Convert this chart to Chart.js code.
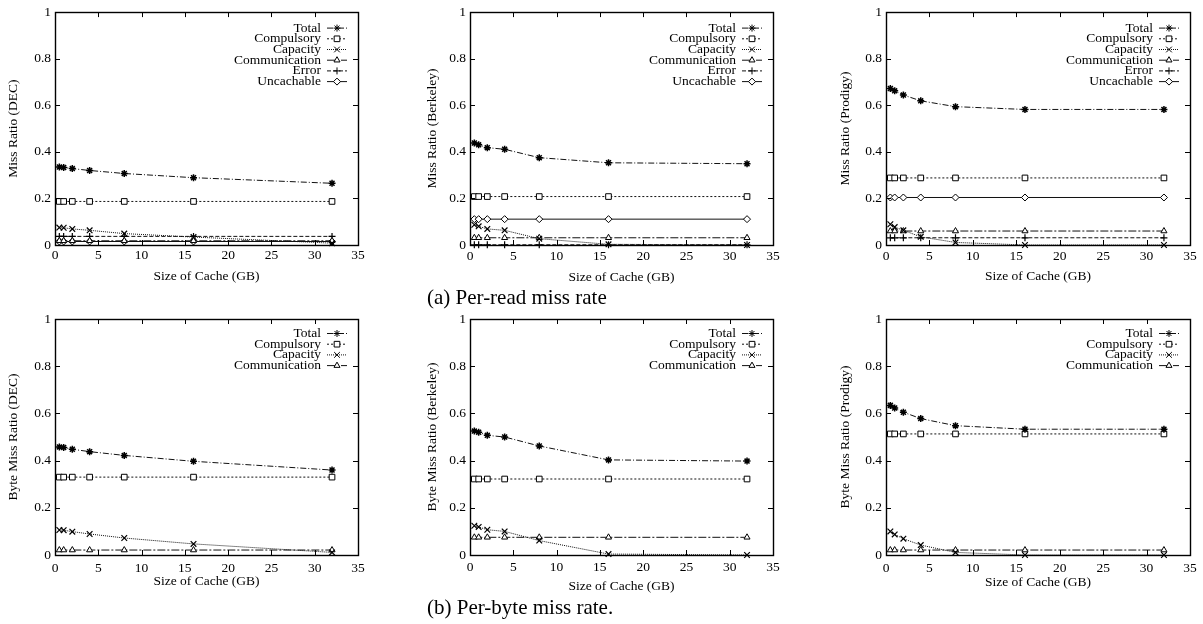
<!DOCTYPE html>
<html>
<head>
<meta charset="utf-8">
<script src="https://cdn.jsdelivr.net/npm/chart.js@4.4.1/dist/chart.umd.min.js"></script>
<style>
  body { margin: 0; background: #fff; width: 1203px; height: 624px; position: relative; overflow: hidden; font-family: 'Liberation Serif', serif; }
  canvas { position: absolute; }
  .caption { position: absolute; font-family: 'Liberation Serif', 'Times New Roman', serif; font-size: 21px; color: #000; white-space: nowrap; line-height: 1; z-index: 2; }
</style>
</head>
<body>
<div class="caption" id="capA" style="left:427px; top:287px;">(a) Per-read miss rate</div>
<div class="caption" id="capB" style="left:427px; top:597px;">(b) Per-byte miss rate.</div>

<script>
// cache sizes (GB) on the x axis
const cacheSizes = [0.5, 1, 2, 4, 8, 16, 32];
const xTicks = [0, 5, 10, 15, 20, 25, 30, 35];
const yTicks = [0, 0.2, 0.4, 0.6, 0.8, 1];

// (a) per-read miss ratio
const decTotal         = [0.335, 0.333, 0.328, 0.320, 0.307, 0.289, 0.265];
const decCompulsory    = [0.187, 0.187, 0.187, 0.187, 0.187, 0.187, 0.187];
const decCapacity      = [0.075, 0.074, 0.069, 0.063, 0.049, 0.034, 0.008];
const decCommunication = [0.018, 0.018, 0.018, 0.018, 0.018, 0.018, 0.018];
const decError         = [0.037, 0.037, 0.037, 0.037, 0.037, 0.037, 0.037];
const decUncachable    = [0.015, 0.015, 0.015, 0.015, 0.015, 0.015, 0.015];

const berkTotal         = [0.438, 0.430, 0.418, 0.411, 0.375, 0.353, 0.349];
const berkCompulsory    = [0.208, 0.208, 0.208, 0.208, 0.208, 0.208, 0.208];
const berkCapacity      = [0.087, 0.080, 0.069, 0.063, 0.027, 0.003, 0.000];
const berkCommunication = [0.031, 0.031, 0.031, 0.031, 0.031, 0.031, 0.031];
const berkError         = [0.001, 0.001, 0.001, 0.001, 0.001, 0.001, 0.001];
const berkUncachable    = [0.111, 0.111, 0.111, 0.111, 0.111, 0.111, 0.111];

const prodTotal         = [0.672, 0.662, 0.644, 0.619, 0.594, 0.582, 0.582];
const prodCompulsory    = [0.288, 0.288, 0.288, 0.288, 0.288, 0.288, 0.288];
const prodCapacity      = [0.089, 0.077, 0.063, 0.035, 0.011, 0.000, 0.000];
const prodCommunication = [0.060, 0.060, 0.060, 0.060, 0.060, 0.060, 0.060];
const prodError         = [0.031, 0.031, 0.031, 0.031, 0.031, 0.031, 0.031];
const prodUncachable    = [0.204, 0.204, 0.204, 0.204, 0.204, 0.204, 0.204];

// (b) per-byte miss ratio
const decByteTotal         = [0.458, 0.456, 0.448, 0.438, 0.422, 0.397, 0.360];
const decByteCompulsory    = [0.330, 0.330, 0.330, 0.330, 0.330, 0.330, 0.330];
const decByteCapacity      = [0.106, 0.105, 0.099, 0.089, 0.072, 0.047, 0.011];
const decByteCommunication = [0.021, 0.021, 0.021, 0.021, 0.021, 0.021, 0.021];

const berkByteTotal         = [0.525, 0.520, 0.507, 0.500, 0.462, 0.403, 0.398];
const berkByteCompulsory    = [0.322, 0.322, 0.322, 0.322, 0.322, 0.322, 0.322];
const berkByteCapacity      = [0.124, 0.119, 0.107, 0.100, 0.061, 0.004, 0.000];
const berkByteCommunication = [0.075, 0.075, 0.075, 0.075, 0.075, 0.075, 0.075];

const prodByteTotal         = [0.634, 0.623, 0.605, 0.578, 0.548, 0.533, 0.533];
const prodByteCompulsory    = [0.513, 0.513, 0.513, 0.513, 0.513, 0.513, 0.513];
const prodByteCapacity      = [0.100, 0.087, 0.069, 0.042, 0.011, 0.000, 0.000];
const prodByteCommunication = [0.021, 0.021, 0.021, 0.021, 0.021, 0.021, 0.021];

const FONT = "'Liberation Serif', 'Times New Roman', serif";
const FONT_SIZE = 13.5;

// line style per series name (gnuplot-ish)
const seriesStyle = {
    'Total':         { dash: [6, 2, 1, 2], point: 'star',     radius: 3.5, pw: 1.5 },
    'Compulsory':    { dash: [2, 2],       point: 'rect',     radius: 4,   pw: 1 },
    'Capacity':      { dash: [1, 1],       point: 'crossRot', radius: 4,   pw: 1.2 },
    'Communication': { dash: [8, 2, 2, 2], point: 'triangle', radius: 3.5, pw: 1 },
    'Error':         { dash: [4, 2],       point: 'cross',    radius: 3.5, pw: 1.2 },
    'Uncachable':    { dash: [],           point: 'rectRot',  radius: 3.5, pw: 1 }
};

function makeDataset(name, values) {
    const s = seriesStyle[name];
    return {
        label: name,
        data: cacheSizes.map((x, i) => ({ x: x, y: values[i] })),
        borderColor: '#111',
        borderWidth: 1,
        borderDash: s.dash,
        pointStyle: s.point,
        pointRadius: s.radius,
        pointBorderWidth: s.pw,
        pointBorderColor: '#000',
        pointBackgroundColor: '#fff',
        tension: 0,
        clip: false
    };
}

function fmtTick(v) {
    return String(Math.round(v * 10) / 10);
}

// inward ticks on all four sides plus the frame
const framePlugin = {
    id: 'frame',
    afterDraw(chart) {
        const { ctx, chartArea: a, scales } = chart;
        ctx.save();
        ctx.strokeStyle = '#000';
        ctx.lineWidth = 1;
        ctx.setLineDash([]);
        ctx.beginPath();
        xTicks.forEach(v => {
            const px = Math.round(scales.x.getPixelForValue(v)) + 0.5;
            ctx.moveTo(px, a.bottom); ctx.lineTo(px, a.bottom - 5);
            ctx.moveTo(px, a.top); ctx.lineTo(px, a.top + 5);
        });
        yTicks.forEach(v => {
            const py = Math.round(scales.y.getPixelForValue(v)) + 0.5;
            ctx.moveTo(a.left, py); ctx.lineTo(a.left + 5, py);
            ctx.moveTo(a.right, py); ctx.lineTo(a.right - 5, py);
        });
        ctx.stroke();
        ctx.lineWidth = 1.4;
        ctx.strokeRect(Math.round(a.left) + 0.5, Math.round(a.top) + 0.5,
                       Math.round(a.right - a.left), Math.round(a.bottom - a.top));
        ctx.restore();
    }
};

// gnuplot style key: right aligned text, then a line sample with its marker
const keyPlugin = {
    id: 'key',
    afterDatasetsDraw(chart, args, opts) {
        const { ctx, chartArea: a } = chart;
        ctx.save();
        chart.data.datasets.forEach((ds, i) => {
            const y = a.top + opts.top + i * 10.7;
            ctx.font = FONT_SIZE + 'px ' + FONT;
            ctx.fillStyle = '#000';
            ctx.textAlign = 'right';
            ctx.textBaseline = 'middle';
            ctx.fillText(ds.label, a.right - 37, y);
            ctx.strokeStyle = ds.borderColor;
            ctx.lineWidth = 1;
            ctx.setLineDash(ds.borderDash);
            ctx.beginPath();
            ctx.moveTo(a.right - 31, y);
            ctx.lineTo(a.right - 11, y);
            ctx.stroke();
            ctx.setLineDash([]);
            ctx.strokeStyle = '#000';
            ctx.fillStyle = '#fff';
            Chart.helpers.drawPoint(ctx, {
                pointStyle: ds.pointStyle, radius: ds.pointRadius,
                borderWidth: ds.pointBorderWidth, rotation: 0
            }, a.right - 21, y);
        });
        ctx.restore();
    }
};

const panels = [
    { id: 'p1', title: 'Miss Ratio (DEC)', box: [0, 0, 400, 300], plot: [55, 358, 8, 245], yTitleX: 13, xTitleY: 276, tickY: 254, keyTop: 16,
      series: [['Total', decTotal], ['Compulsory', decCompulsory], ['Capacity', decCapacity], ['Communication', decCommunication], ['Error', decError], ['Uncachable', decUncachable]] },
    { id: 'p2', title: 'Miss Ratio (Berkeley)', box: [400, 0, 400, 300], plot: [470, 773, 8, 245], yTitleX: 432, xTitleY: 277, tickY: 255, keyTop: 16,
      series: [['Total', berkTotal], ['Compulsory', berkCompulsory], ['Capacity', berkCapacity], ['Communication', berkCommunication], ['Error', berkError], ['Uncachable', berkUncachable]] },
    { id: 'p3', title: 'Miss Ratio (Prodigy)', box: [800, 0, 403, 300], plot: [886, 1190, 8, 245], yTitleX: 845, xTitleY: 276, tickY: 255, keyTop: 16,
      series: [['Total', prodTotal], ['Compulsory', prodCompulsory], ['Capacity', prodCapacity], ['Communication', prodCommunication], ['Error', prodError], ['Uncachable', prodUncachable]] },
    { id: 'p4', title: 'Byte Miss Ratio (DEC)', box: [0, 305, 400, 319], plot: [55, 358, 319, 555], yTitleX: 13, xTitleY: 581, tickY: 566.5, keyTop: 14.5,
      series: [['Total', decByteTotal], ['Compulsory', decByteCompulsory], ['Capacity', decByteCapacity], ['Communication', decByteCommunication]] },
    { id: 'p5', title: 'Byte Miss Ratio (Berkeley)', box: [400, 305, 400, 319], plot: [470, 773, 319, 555], yTitleX: 432, xTitleY: 586, tickY: 566, keyTop: 14.5,
      series: [['Total', berkByteTotal], ['Compulsory', berkByteCompulsory], ['Capacity', berkByteCapacity], ['Communication', berkByteCommunication]] },
    { id: 'p6', title: 'Byte Miss Ratio (Prodigy)', box: [800, 305, 403, 319], plot: [886, 1190, 319, 555], yTitleX: 845, xTitleY: 582, tickY: 566.5, keyTop: 14.5,
      series: [['Total', prodByteTotal], ['Compulsory', prodByteCompulsory], ['Capacity', prodByteCapacity], ['Communication', prodByteCommunication]] }
];

Chart.defaults.font.family = FONT;
Chart.defaults.font.size = FONT_SIZE;
Chart.defaults.color = '#000';

const charts = [];

panels.forEach(p => {
    const [bx, by, bw, bh] = p.box;
    const [pl, pr, pt, pb] = p.plot;
    const titleOffset = FONT_SIZE * 1.2 / 2 + 4;

    const canvas = document.createElement('canvas');
    canvas.id = p.id;
    canvas.style.left = bx + 'px';
    canvas.style.top = by + 'px';
    canvas.style.width = bw + 'px';
    canvas.style.height = bh + 'px';
    canvas.width = bw;
    canvas.height = bh;
    document.body.appendChild(canvas);

    const padLeft = p.yTitleX - titleOffset - bx;
    const yAxisWidth = pl - bx - padLeft;
    const xAxisBottom = p.xTitleY + titleOffset;
    const xAxisHeight = xAxisBottom - pb;

    charts.push(new Chart(canvas.getContext('2d'), {
        type: 'line',
        data: { datasets: p.series.map(s => makeDataset(s[0], s[1])) },
        options: {
            responsive: false,
            animation: false,
            events: [],
            layout: {
                padding: { left: padLeft, right: bx + bw - pr, top: pt - by, bottom: by + bh - xAxisBottom }
            },
            scales: {
                x: {
                    type: 'linear', min: 0, max: 35,
                    grid: { display: false, drawTicks: false, tickLength: 0 },
                    border: { display: false },
                    ticks: { stepSize: 5, padding: p.tickY - pb - 6.4, maxRotation: 0, autoSkip: false, callback: fmtTick },
                    title: { display: true, text: 'Size of Cache (GB)', padding: { top: 4, bottom: 4 } },
                    afterFit(axis) { axis.height = xAxisHeight; }
                },
                y: {
                    type: 'linear', min: 0, max: 1,
                    grid: { display: false, drawTicks: false, tickLength: 0 },
                    border: { display: false },
                    ticks: { stepSize: 0.2, padding: 4, callback: fmtTick },
                    title: { display: true, text: p.title, padding: { top: 4, bottom: 4 } },
                    afterFit(axis) { axis.width = yAxisWidth; }
                }
            },
            plugins: {
                legend: { display: false },
                tooltip: { enabled: false },
                key: { top: p.keyTop }
            }
        },
        plugins: [framePlugin, keyPlugin]
    }));
});

// local fonts can arrive after the first draw; redraw once they are ready
document.fonts.load(FONT_SIZE + 'px "Liberation Serif"').then(() => {
    charts.forEach(c => c.update('none'));
});
</script>
</body>
</html>
